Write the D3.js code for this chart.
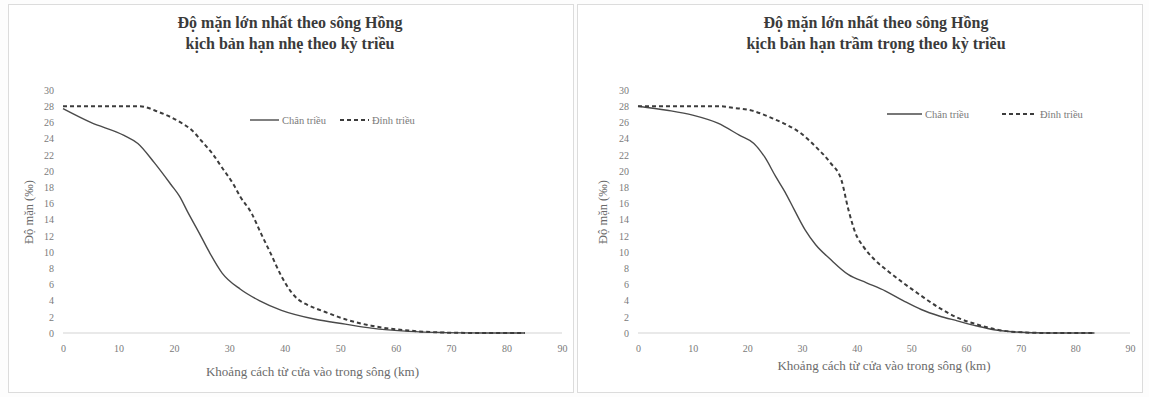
<!DOCTYPE html>
<html>
<head>
<meta charset="utf-8">
<script src="https://cdn.jsdelivr.net/npm/d3@7"></script>
<style>
  html, body { margin: 0; padding: 0; background: #fdfdfd; }
  svg { display: block; }
  text { font-family: "Liberation Serif", "Times New Roman", serif; }
</style>
</head>
<body>
<svg id="chart" width="1149" height="397"></svg>
<script>
// Axis ticks
const xTicks = [0, 10, 20, 30, 40, 50, 60, 70, 80, 90];
const yTicks = [0, 2, 4, 6, 8, 10, 12, 14, 16, 18, 20, 22, 24, 26, 28, 30];

// Titles and labels
const titleMild = ["Độ mặn lớn nhất theo sông Hồng", "kịch bản hạn nhẹ theo kỳ triều"];
const titleSevere = ["Độ mặn lớn nhất theo sông Hồng", "kịch bản hạn trầm trọng theo kỳ triều"];
const seriesNames = ["Chân triều", "Đỉnh triều"];
const xAxisTitle = "Khoảng cách từ cửa vào trong sông (km)";
const yAxisTitle = "Độ mặn (‰)";

// Mild drought – low tide (Chân triều): distance (km) / salinity (‰)
const mildLowKm  = [0, 5, 11, 13.5, 16.5, 19.5, 21, 22.6, 24.6, 26.3, 28.7, 32, 35.4, 39.4, 45.5, 50.9, 55.6, 62.4, 69, 76, 83.3];
const mildLowSal = [27.7, 26, 24.4, 23.4, 21, 18.3, 16.9, 14.8, 12.3, 10.1, 7.4, 5.4, 4.0, 2.8, 1.7, 1.1, 0.6, 0.2, 0.05, 0, 0];
// Mild drought – high tide (Đỉnh triều)
const mildHighKm  = [0, 5, 10, 13.8, 17.2, 21.2, 23.3, 25, 27, 28.7, 30.7, 32, 34, 35.7, 37.4, 39.4, 41, 42.5, 44, 46.9, 50.9, 55.6, 62.4, 69, 76, 83.3];
const mildHighSal = [28, 28, 28, 28, 27.3, 26, 25, 23.7, 22.1, 20.4, 18.4, 16.8, 14.8, 12.3, 9.9, 7.0, 5.2, 4.1, 3.5, 2.7, 1.7, 0.9, 0.3, 0.05, 0, 0];

// Severe drought – low tide (Chân triều)
const severeLowKm  = [0, 5.3, 10, 14.6, 18.6, 21.2, 23.2, 25.2, 26.9, 28.6, 30.6, 32.5, 35.2, 38.5, 41.8, 45.2, 48.5, 51.8, 55.1, 58.4, 61.8, 65.1, 68.4, 75, 83.5];
const severeLowSal = [28, 27.5, 26.9, 25.9, 24.4, 23.4, 21.7, 19.3, 17.4, 15.2, 12.7, 10.9, 9.1, 7.2, 6.2, 5.2, 4.0, 2.9, 2.1, 1.5, 0.9, 0.4, 0.16, 0, 0];
// Severe drought – high tide (Đỉnh triều)
const severeHighKm  = [0, 5, 10, 15, 17.3, 20.6, 24.6, 27.2, 29.9, 32.5, 35.2, 37.2, 38.5, 39.8, 41.2, 43.2, 45.8, 48.5, 51.8, 55.1, 58.4, 61.8, 65.1, 68.4, 75, 83.5];
const severeHighSal = [28, 28, 28, 28, 27.8, 27.5, 26.5, 25.7, 24.6, 23, 21, 18.9, 15.2, 12.3, 10.7, 9.1, 7.6, 6.2, 4.6, 3.1, 1.9, 1.1, 0.5, 0.16, 0, 0];

const svg = d3.select("#chart");

function drawPanel(cfg) {
  const g = svg.append("g");

  // panel frame
  g.append("rect")
    .attr("x", cfg.frame[0]).attr("y", cfg.frame[1])
    .attr("width", cfg.frame[2]).attr("height", cfg.frame[3])
    .attr("fill", "#ffffff").attr("stroke", "#dcdcdc").attr("stroke-width", 1);

  const x = d3.scaleLinear().domain([0, 90]).range(cfg.xRange);
  const y = d3.scaleLinear().domain([0, 30]).range([333, 90]);

  // title
  const title = g.append("text")
    .attr("x", cfg.titleX).attr("y", 28)
    .attr("text-anchor", "middle")
    .attr("font-size", 16).attr("font-weight", "bold").attr("fill", "#3a3a3a");
  cfg.title.forEach((t, i) => {
    title.append("tspan").attr("x", cfg.titleX).attr("dy", i === 0 ? 0 : 21).text(t);
  });

  // baseline
  g.append("line")
    .attr("x1", x(0)).attr("x2", x(90))
    .attr("y1", y(0)).attr("y2", y(0))
    .attr("stroke", "#d4d4d4").attr("stroke-width", 1.2);

  // axes
  const xAxis = g.append("g")
    .attr("transform", `translate(0,${y(0)})`)
    .call(d3.axisBottom(x).tickValues(xTicks).tickSize(0).tickPadding(12));
  xAxis.select(".domain").remove();
  xAxis.selectAll("text").attr("font-size", 10).attr("fill", "#7a7a7a")
    .style("font-family", '"Liberation Serif", serif');

  const yAxis = g.append("g")
    .attr("transform", `translate(${x(0) - 9},0)`)
    .call(d3.axisLeft(y).tickValues(yTicks).tickSize(0).tickPadding(0));
  yAxis.select(".domain").remove();
  yAxis.selectAll("text").attr("font-size", 10).attr("fill", "#7a7a7a")
    .style("font-family", '"Liberation Serif", serif');

  // axis titles
  g.append("text")
    .attr("x", (x(0) + x(90)) / 2).attr("y", cfg.xTitleY)
    .attr("text-anchor", "middle")
    .attr("font-size", 13).attr("fill", "#6a6a6a")
    .text(xAxisTitle);
  g.append("text")
    .attr("transform", `translate(${cfg.yTitleX},212) rotate(-90)`)
    .attr("text-anchor", "middle")
    .attr("font-size", 12.5).attr("fill", "#6a6a6a")
    .text(yAxisTitle);

  const line = d3.line()
    .x(d => x(d[0])).y(d => y(d[1]))
    .curve(d3.curveMonotoneX);

  const low = d3.zip(cfg.lowKm, cfg.lowSal);
  const high = d3.zip(cfg.highKm, cfg.highSal);

  g.append("path").datum(low)
    .attr("d", line).attr("fill", "none")
    .attr("stroke", "#4a4a4a").attr("stroke-width", 1.4);
  g.append("path").datum(high)
    .attr("d", line).attr("fill", "none")
    .attr("stroke", "#3c3c3c").attr("stroke-width", 2)
    .attr("stroke-dasharray", "4,3");

  // legend
  const lg = g.append("g").attr("transform", `translate(${cfg.legend[0]},${cfg.legend[1]})`);
  lg.append("line").attr("x1", 0).attr("x2", cfg.legendLine).attr("y1", 0).attr("y2", 0)
    .attr("stroke", "#4a4a4a").attr("stroke-width", 1.4);
  lg.append("text").attr("x", cfg.legendLine + 3).attr("y", 3.5)
    .attr("font-size", 10.5).attr("fill", "#7a7a7a").text(seriesNames[0]);
  lg.append("line").attr("x1", cfg.legendGap).attr("x2", cfg.legendGap + cfg.legendLine).attr("y1", 0).attr("y2", 0)
    .attr("stroke", "#3c3c3c").attr("stroke-width", 2).attr("stroke-dasharray", "4,3");
  lg.append("text").attr("x", cfg.legendGap + cfg.legendLine + 3).attr("y", 3.5)
    .attr("font-size", 10.5).attr("fill", "#7a7a7a").text(seriesNames[1]);
}

drawPanel({
  frame: [8.5, 4.5, 565, 388],
  xRange: [63, 562],
  titleX: 290,
  title: titleMild,
  xTitleY: 376,
  yTitleX: 33,
  lowKm: mildLowKm, lowSal: mildLowSal,
  highKm: mildHighKm, highSal: mildHighSal,
  legend: [250, 120], legendLine: 29, legendGap: 90
});

drawPanel({
  frame: [577.5, 4.5, 565, 388],
  xRange: [638, 1130],
  titleX: 876,
  title: titleSevere,
  xTitleY: 370,
  yTitleX: 607,
  lowKm: severeLowKm, lowSal: severeLowSal,
  highKm: severeHighKm, highSal: severeHighSal,
  legend: [887, 114], legendLine: 35, legendGap: 115
});
</script>
</body>
</html>
